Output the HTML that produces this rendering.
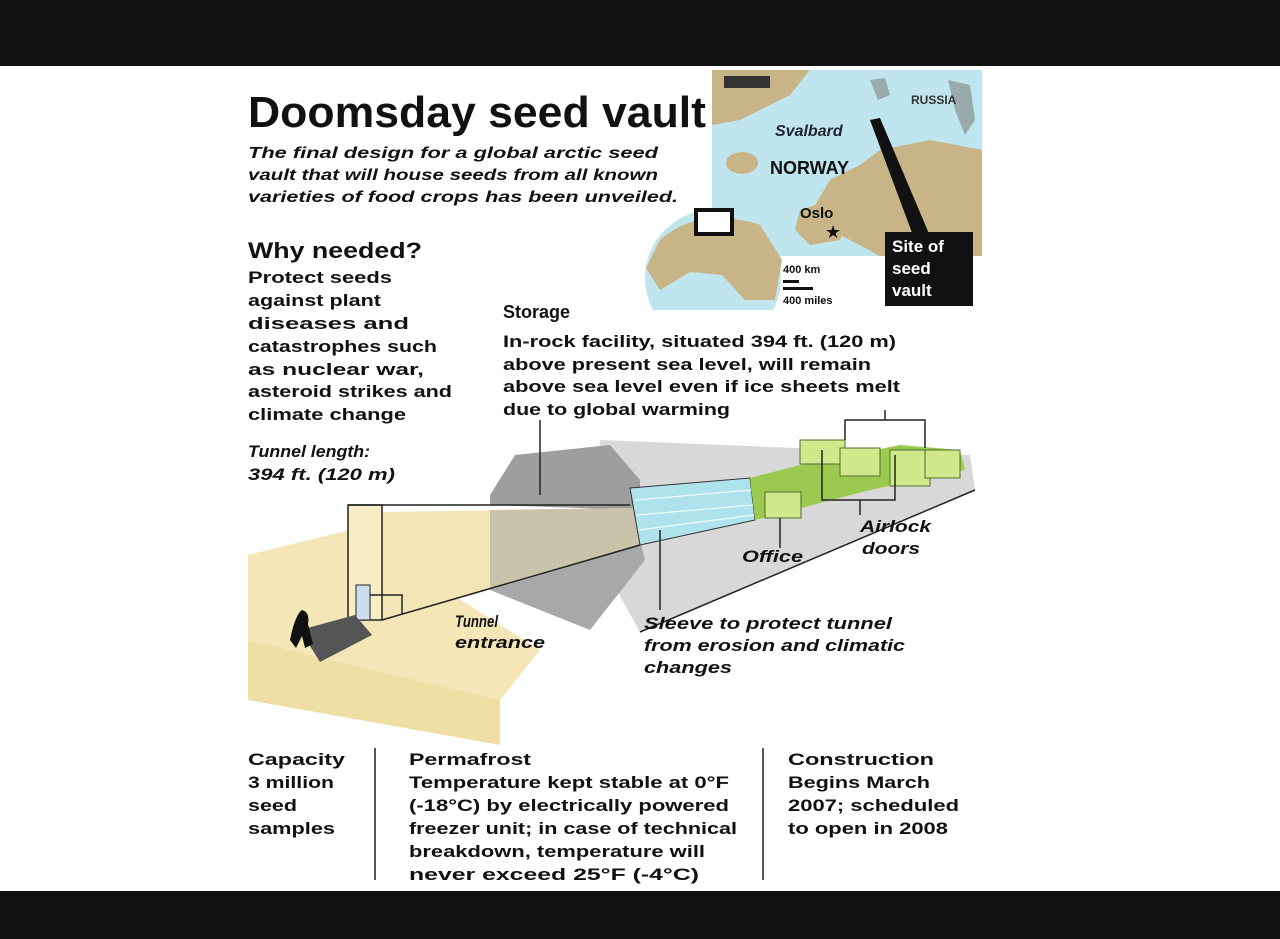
<!DOCTYPE html>
<html><head><meta charset="utf-8"><style>
html,body{margin:0;padding:0;background:#fff;}
svg{display:block;font-family:"Liberation Sans",Arial,sans-serif;}
.b{font-weight:bold;}
.i{font-style:italic;font-weight:bold;}
</style></head><body>
<svg width="1280" height="939" viewBox="0 0 1280 939" xmlns="http://www.w3.org/2000/svg">
<defs><clipPath id="gc"><rect x="600" y="200" width="200" height="110"/></clipPath></defs>
<rect x="0" y="0" width="1280" height="939" fill="#fff"/>
<rect x="0" y="0" width="1280" height="66" fill="#111"/>
<rect x="0" y="891" width="1280" height="48" fill="#111"/>

<!-- Map -->
<rect x="712" y="70" width="270" height="186" fill="#bfe6ee"/>
<path d="M712,70 L810,70 L790,95 L760,110 L740,120 L712,125 Z" fill="#c8b487"/>
<rect x="724" y="76" width="46" height="12" fill="#333"/>
<path d="M880,150 L930,140 L982,150 L982,256 L880,256 L850,240 L830,230 L815,205 L830,180 L860,165 Z" fill="#c8b487"/>
<path d="M800,210 L830,200 L850,220 L840,240 L810,245 L795,230 Z" fill="#c8b487"/>
<ellipse cx="742" cy="163" rx="16" ry="11" fill="#c8b487"/>
<path d="M948,80 L970,85 L975,120 L965,135 L955,110 Z" fill="#9aa"/>
<path d="M870,80 L885,78 L890,95 L878,100 Z" fill="#9aa"/>
<text x="911" y="104" class="b" font-size="12" fill="#333">RUSSIA</text>
<text x="775" y="136" class="i" font-size="16" fill="#223">Svalbard</text>
<text x="770" y="174" class="b" font-size="18" fill="#111">NORWAY</text>
<text x="800" y="218" class="b" font-size="15" fill="#111">Oslo</text>
<text x="825" y="238" font-size="18" fill="#111">★</text>
<polygon points="870,120 880,118 930,236 914,238" fill="#111"/>
<rect x="885" y="232" width="88" height="74" fill="#111"/>
<text x="892" y="252" class="b" font-size="17" fill="#fff">Site of</text>
<text x="892" y="274" class="b" font-size="17" fill="#fff">seed</text>
<text x="892" y="296" class="b" font-size="17" fill="#fff">vault</text>
<text x="783" y="273" class="b" font-size="11" fill="#111">400 km</text>
<rect x="783" y="280" width="16" height="3" fill="#111"/>
<rect x="783" y="287" width="30" height="3" fill="#111"/>
<text x="783" y="304" class="b" font-size="11" fill="#111">400 miles</text>
<!-- globe -->
<g clip-path="url(#gc)">
<circle cx="713" cy="278" r="68" fill="#bfe6ee"/>
<path d="M660,240 Q700,205 760,225 L782,260 L775,300 L745,300 L722,275 L690,272 L660,290 L646,268 Z" fill="#c8b487"/>
</g>
<rect x="696" y="210" width="36" height="24" fill="#fff" stroke="#111" stroke-width="4"/>

<!-- Title -->
<text x="248" y="127" class="b" font-size="44" fill="#111" textLength="458" lengthAdjust="spacingAndGlyphs">Doomsday seed vault</text>
<g class="i" font-size="16" fill="#111">
<text x="248" y="158" textLength="410" lengthAdjust="spacingAndGlyphs">The final design for a global arctic seed</text>
<text x="248" y="180" textLength="410" lengthAdjust="spacingAndGlyphs">vault that will house seeds from all known</text>
<text x="248" y="202" textLength="430" lengthAdjust="spacingAndGlyphs">varieties of food crops has been unveiled.</text>
</g>
<text x="248" y="258" class="b" font-size="22" fill="#111" textLength="174" lengthAdjust="spacingAndGlyphs">Why needed?</text>
<g font-size="17" fill="#111" class="b" lengthAdjust="spacingAndGlyphs">
<text x="248" y="283" textLength="144" lengthAdjust="spacingAndGlyphs">Protect seeds</text>
<text x="248" y="306" textLength="133" lengthAdjust="spacingAndGlyphs">against plant</text>
<text x="248" y="329" textLength="161" lengthAdjust="spacingAndGlyphs">diseases and</text>
<text x="248" y="352" textLength="189" lengthAdjust="spacingAndGlyphs">catastrophes such</text>
<text x="248" y="375" textLength="176" lengthAdjust="spacingAndGlyphs">as nuclear war,</text>
<text x="248" y="397" textLength="204" lengthAdjust="spacingAndGlyphs">asteroid strikes and</text>
<text x="248" y="420" textLength="158" lengthAdjust="spacingAndGlyphs">climate change</text>
</g>
<text x="503" y="318" class="b" font-size="18" fill="#111">Storage</text>
<g font-size="17" fill="#111" class="b">
<text x="503" y="347" textLength="393" lengthAdjust="spacingAndGlyphs">In-rock facility, situated 394 ft. (120 m)</text>
<text x="503" y="370" textLength="368" lengthAdjust="spacingAndGlyphs">above present sea level, will remain</text>
<text x="503" y="392" textLength="397" lengthAdjust="spacingAndGlyphs">above sea level even if ice sheets melt</text>
<text x="503" y="415" textLength="227" lengthAdjust="spacingAndGlyphs">due to global warming</text>
</g>
<g font-size="17" class="i" fill="#111">
<text x="248" y="457" textLength="122" lengthAdjust="spacingAndGlyphs">Tunnel length:</text>
<text x="248" y="480" textLength="147" lengthAdjust="spacingAndGlyphs">394 ft. (120 m)</text>
</g>

<!-- Diagram -->
<polygon points="600,440 970,455 975,490 640,632 600,560" fill="#d8d8d8"/>
<polygon points="248,555 350,530 540,650 500,700 248,640" fill="#f5e6b8"/>
<polygon points="248,640 500,700 500,745 248,700" fill="#f0dfa5"/>
<polygon points="490,495 515,455 610,445 640,480 640,510 490,505" fill="#9e9e9e"/>
<polygon points="490,590 640,540 645,560 590,630" fill="#a8a8a8"/>
<polygon points="382,512 635,508 640,545 382,620" fill="#f2e6b6"/>
<polygon points="490,510 635,508 640,545 490,590" fill="#c9c4a9"/>
<rect x="348" y="505" width="34" height="115" fill="#f7edc5" stroke="#222" stroke-width="1.5"/>
<line x1="348" y1="505" x2="630" y2="505" stroke="#222" stroke-width="1.5"/>
<line x1="382" y1="620" x2="640" y2="545" stroke="#222" stroke-width="1.5"/>
<rect x="356" y="585" width="14" height="35" fill="#cde" stroke="#222"/>
<polygon points="300,630 355,615 372,635 320,662" fill="#555"/>
<path d="M290,640 q5,-25 12,-30 q8,2 6,14 l5,20 l-8,4 l-3,-12 l-6,12 Z" fill="#111"/>
<polygon points="630,488 750,478 755,520 640,545" fill="#aee3ee" stroke="#333"/>
<line x1="635" y1="500" x2="752" y2="490" stroke="#fff"/>
<line x1="637" y1="515" x2="753" y2="505" stroke="#fff"/>
<line x1="638" y1="530" x2="754" y2="515" stroke="#fff"/>
<polygon points="750,478 800,465 900,445 960,450 965,470 870,490 755,520" fill="#9cc94f"/>
<g fill="#cfe88a" stroke="#556b2f">
<rect x="765" y="492" width="36" height="26"/>
<rect x="800" y="440" width="45" height="24"/>
<rect x="840" y="448" width="40" height="28"/>
<rect x="890" y="450" width="40" height="36"/>
<rect x="925" y="450" width="35" height="28"/>
</g>
<g stroke="#222" stroke-width="1.5" fill="none">
<polyline points="845,440 845,420 925,420 925,448"/>
<line x1="885" y1="420" x2="885" y2="410"/>
<polyline points="822,450 822,500 895,500 895,455"/>
<line x1="860" y1="500" x2="860" y2="515"/>
<line x1="780" y1="518" x2="780" y2="548"/>
<line x1="540" y1="495" x2="540" y2="420"/>
<polyline points="370,595 402,595 402,614"/>
<line x1="660" y1="530" x2="660" y2="610"/>
<line x1="975" y1="490" x2="640" y2="632"/>
</g>
<g font-size="17" class="i" fill="#111">
<text x="860" y="532" textLength="71" lengthAdjust="spacingAndGlyphs">Airlock</text>
<text x="862" y="554" textLength="58" lengthAdjust="spacingAndGlyphs">doors</text>
<text x="742" y="562" textLength="61" lengthAdjust="spacingAndGlyphs">Office</text>
<text x="455" y="627" textLength="43" lengthAdjust="spacingAndGlyphs">Tunnel</text>
<text x="455" y="648" textLength="90" lengthAdjust="spacingAndGlyphs">entrance</text>
<text x="644" y="629" textLength="248" lengthAdjust="spacingAndGlyphs">Sleeve to protect tunnel</text>
<text x="644" y="651" textLength="261" lengthAdjust="spacingAndGlyphs">from erosion and climatic</text>
<text x="644" y="673" textLength="88" lengthAdjust="spacingAndGlyphs">changes</text>
</g>

<!-- Bottom -->
<line x1="375" y1="748" x2="375" y2="880" stroke="#555" stroke-width="2"/>
<line x1="763" y1="748" x2="763" y2="880" stroke="#555" stroke-width="2"/>
<g font-size="17" fill="#111" class="b">
<text x="248" y="765" textLength="97" lengthAdjust="spacingAndGlyphs">Capacity</text>
<text x="248" y="788" textLength="86" lengthAdjust="spacingAndGlyphs">3 million</text>
<text x="248" y="811" textLength="49" lengthAdjust="spacingAndGlyphs">seed</text>
<text x="248" y="834" textLength="87" lengthAdjust="spacingAndGlyphs">samples</text>
<text x="409" y="765" textLength="122" lengthAdjust="spacingAndGlyphs">Permafrost</text>
<text x="409" y="788" textLength="320" lengthAdjust="spacingAndGlyphs">Temperature kept stable at 0°F</text>
<text x="409" y="811" textLength="320" lengthAdjust="spacingAndGlyphs">(-18°C) by electrically powered</text>
<text x="409" y="834" textLength="328" lengthAdjust="spacingAndGlyphs">freezer unit; in case of technical</text>
<text x="409" y="857" textLength="296" lengthAdjust="spacingAndGlyphs">breakdown, temperature will</text>
<text x="409" y="880" textLength="290" lengthAdjust="spacingAndGlyphs">never exceed 25°F (-4°C)</text>
<text x="788" y="765" textLength="146" lengthAdjust="spacingAndGlyphs">Construction</text>
<text x="788" y="788" textLength="142" lengthAdjust="spacingAndGlyphs">Begins March</text>
<text x="788" y="811" textLength="171" lengthAdjust="spacingAndGlyphs">2007; scheduled</text>
<text x="788" y="834" textLength="160" lengthAdjust="spacingAndGlyphs">to open in 2008</text>
</g>
</svg>
</body></html>
